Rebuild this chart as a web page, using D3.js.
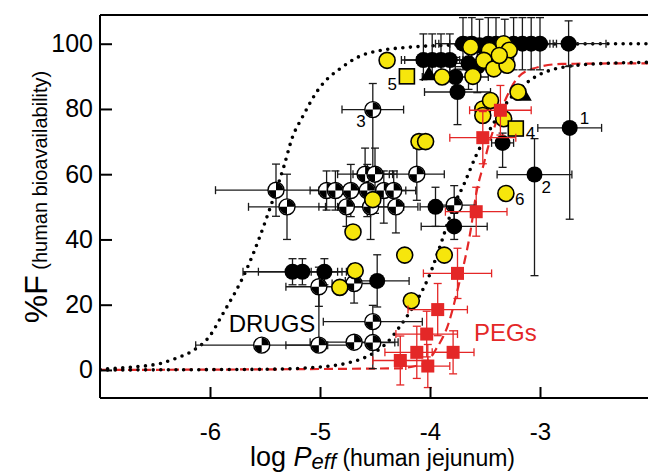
<!DOCTYPE html>
<html>
<head>
<meta charset="utf-8">
<script src="https://cdn.jsdelivr.net/npm/d3@7"></script>
<style>
  body { margin: 0; background: #fff; }
  svg { display: block; font-family: "Liberation Sans", Arial, sans-serif; }
</style>
</head>
<body>
<svg id="chart"></svg>
<script>
// point rows: [log Peff, %F, xErr, yErrDown, yErrUp]
const blackPts = [
  [-2.74, 100, 0.34, 7, 7], [-2.73, 74.2, 0.29, 28, 19], [-3.05, 59.9, 0.34, 31, 11],
  [-3.34, 69.6, 0.10, 7.5, 3], [-3.75, 85.2, 0.30, 10, 7], [-3.77, 89.8, 0.30, 6, 6],
  [-4.06, 95, 0.20, 6, 8], [-3.98, 95, 0.25, 5, 8], [-3.90, 95, 0.20, 6, 8], [-3.82, 95, 0.30, 6, 8],
  [-3.65, 94, 0.30, 8, 8], [-3.57, 93, 0.25, 8, 8],
  [-3.70, 100, 0.25, 8, 8], [-3.62, 100, 0.30, 8, 8], [-3.55, 99.5, 0.20, 8, 8], [-3.47, 100, 0.35, 8, 8],
  [-3.40, 100, 0.25, 8, 8], [-3.32, 99.5, 0.30, 8, 8], [-3.24, 100, 0.20, 8, 8], [-3.16, 100, 0.25, 8, 8],
  [-3.08, 100, 0.20, 8, 8], [-3.00, 100, 0.15, 8, 8],
  [-3.95, 50, 0.14, 6, 6], [-3.78, 44, 0.30, 4, 4], [-4.48, 27.3, 0.29, 8, 8],
  [-4.96, 30.1, 0.12, 4, 4], [-5.25, 30.1, 0.45, 4, 4], [-5.16, 30.1, 0.40, 4, 4]
];
const quarterPts = [
  [-4.52, 79.8, 0.28, 20, 8], [-5.40, 55.1, 0.55, 8, 8], [-5.30, 50.0, 0.35, 10, 10],
  [-4.59, 60, 0.25, 10, 8], [-4.50, 60, 0.20, 12, 8], [-4.12, 60, 0.25, 8, 8],
  [-4.94, 55, 0.15, 6, 6], [-4.86, 55, 0.15, 6, 6], [-4.72, 55, 0.20, 8, 8],
  [-4.57, 55, 0.25, 8, 8], [-4.42, 55, 0.20, 10, 6], [-4.33, 55, 0.20, 6, 6],
  [-4.76, 50, 0.25, 6, 6], [-4.54, 50, 0.30, 10, 6], [-4.31, 50, 0.20, 8, 6], [-3.78, 50.5, 0.20, 6, 6],
  [-4.69, 26.5, 0.20, 6, 6], [-5.01, 25.5, 0.30, 6, 6],
  [-4.52, 14.8, 0.45, 5, 5], [-4.69, 8.5, 0.40, 0, 0], [-4.52, 8.4, 0.20, 8, 0],
  [-5.53, 7.6, 0.60, 0, 0], [-5.01, 7.6, 0.30, 0, 16]
];
const yellowPts = [
  [-4.39, 94.9], [-3.89, 89.8], [-3.61, 90], [-3.63, 99], [-3.46, 97.9], [-3.33, 100],
  [-3.28, 98], [-3.51, 94.9], [-3.42, 92.3], [-3.30, 93.4], [-3.37, 96.4], [-3.20, 85.2],
  [-3.52, 80], [-3.45, 82.6], [-3.52, 78], [-3.33, 77], [-4.10, 70], [-4.04, 70],
  [-4.52, 52.2], [-4.70, 42.3], [-3.31, 54.1], [-4.23, 35.2], [-3.87, 35.2],
  [-4.68, 30.4], [-4.82, 25.3], [-4.17, 21.2]
];
const yellowSquares = [[-4.21, 90], [-3.22, 74]];
const blackTriangles = [[-3.15, 84], [-4.01, 90.3]];
const pegPts = [
  [-3.36, 79.6, 0.28, 7.6, 7.6], [-3.52, 71.2, 0.30, 8, 8], [-3.58, 48.5, 0.28, 7.5, 7.5],
  [-3.75, 29.6, 0.31, 7.7, 7.7], [-3.93, 18.5, 0.27, 8, 8], [-4.03, 11.0, 0.28, 7, 7],
  [-4.12, 5.4, 0.29, 8, 8], [-4.27, 2.9, 0.25, 7.5, 7.5], [-4.02, 1.2, 0.20, 6.6, 6.6],
  [-3.79, 5.4, 0.19, 6.6, 6.6]
];

// fitted curves: [log Peff, %F]
const drugCurveLeft = [
  [-7, 0.2], [-6.74, 0.8], [-6.45, 2.0], [-6.3, 3.7], [-6.16, 5.8], [-6.0, 10.5], [-5.89, 16.8],
  [-5.67, 30.6], [-5.45, 50], [-5.33, 62.2], [-5.25, 71.4], [-5.16, 77.5], [-5.01, 86.2],
  [-4.80, 92.8], [-4.58, 96.9], [-4.16, 99], [-3.5, 99.8], [-2, 100]
];
const drugCurveRight = [
  [-7, 0], [-5.5, 0.2], [-5.0, 0.9], [-4.74, 2.2], [-4.58, 4], [-4.39, 8.4], [-4.27, 13.5],
  [-4.19, 17.4], [-4.10, 22.4], [-4.01, 28.6], [-3.89, 39.8], [-3.80, 49], [-3.69, 57],
  [-3.58, 65.8], [-3.45, 74], [-3.30, 82], [-3.09, 88.8], [-2.86, 92.3], [-2.5, 93.8], [-2, 94.3]
];
const pegCurve = [
  [-7, 0], [-4.3, 0.5], [-4.04, 2.1], [-3.95, 6.1], [-3.83, 14.4], [-3.75, 24.5], [-3.63, 42.9],
  [-3.58, 54], [-3.51, 63.3], [-3.48, 67.3], [-3.35, 80], [-3.22, 88.8], [-3.07, 92.3],
  [-2.8, 93.8], [-2, 94]
];

const xTicks = [-6, -5, -4, -3];
const yTicks = [0, 20, 40, 60, 80, 100];
const pointLabels = [
  { text: "1", at: [-2.73, 74.2], dx: 10, dy: -4, anchor: "start" },
  { text: "2", at: [-3.05, 59.9], dx: 7, dy: 18, anchor: "start" },
  { text: "3", at: [-4.52, 79.8], dx: -7, dy: 17, anchor: "end" },
  { text: "4", at: [-3.22, 74], dx: 10, dy: 10, anchor: "start" },
  { text: "5", at: [-4.21, 90], dx: -10, dy: 14, anchor: "end" },
  { text: "6", at: [-3.31, 54.1], dx: 9, dy: 12, anchor: "start" }
];

const width = 648, height = 475;
const YELLOW = "#f6e60c", RED = "#e42727";

const svg = d3.select("#chart").attr("width", width).attr("height", height);

const x = d3.scaleLinear().domain([-7, -2]).range([100, 650]);
const y = d3.scaleLinear().domain([-8.6, 108.8]).range([398, 15]);

svg.append("defs").append("clipPath").attr("id", "plot-clip")
  .append("rect").attr("x", 100).attr("y", 15).attr("width", 550).attr("height", 383);

const plot = svg.append("g").attr("clip-path", "url(#plot-clip)");

// curves
const line = d3.line().x(d => x(d[0])).y(d => y(d[1])).curve(d3.curveMonotoneX);

plot.append("path").datum(pegCurve)
  .attr("d", line).attr("fill", "none")
  .attr("stroke", RED).attr("stroke-width", 2.2).attr("stroke-dasharray", "9,5");

[drugCurveLeft, drugCurveRight].forEach(c => {
  plot.append("path").datum(c)
    .attr("d", line).attr("fill", "none")
    .attr("stroke", "#000").attr("stroke-width", 3.6)
    .attr("stroke-linecap", "round").attr("stroke-dasharray", "0,7.6");
});

// error bars
function errorBars(g, data, color) {
  const cap = 4;
  const segs = [];
  data.forEach(d => {
    const [vx, vy, ex, ed, eu] = d;
    const cx = x(vx), cy = y(vy);
    if (ex > 0) {
      const x0 = x(vx - ex), x1 = x(vx + ex);
      segs.push([x0, cy, x1, cy], [x0, cy - cap, x0, cy + cap], [x1, cy - cap, x1, cy + cap]);
    }
    if (ed > 0) {
      const yb = y(vy - ed);
      segs.push([cx, cy, cx, yb], [cx - cap, yb, cx + cap, yb]);
    }
    if (eu > 0) {
      const yt = y(vy + eu);
      segs.push([cx, cy, cx, yt], [cx - cap, yt, cx + cap, yt]);
    }
  });
  g.selectAll("line").data(segs).join("line")
    .attr("x1", s => s[0]).attr("y1", s => s[1])
    .attr("x2", s => s[2]).attr("y2", s => s[3])
    .attr("stroke", color).attr("stroke-width", 1.3);
}

errorBars(plot.append("g"), quarterPts.concat(blackPts), "#1a1a1a");

const R = 8;

// quartered drug markers
const quarterArc = d3.arc().innerRadius(0).outerRadius(R - 0.6);
const qg = plot.append("g").selectAll("g").data(quarterPts).join("g")
  .attr("transform", d => `translate(${x(d[0])},${y(d[1])})`);
qg.append("circle").attr("r", R).attr("fill", "#fff").attr("stroke", "#000").attr("stroke-width", 1.4);
qg.append("path").attr("d", quarterArc({ startAngle: 0, endAngle: Math.PI / 2 })).attr("fill", "#000");
qg.append("path").attr("d", quarterArc({ startAngle: Math.PI, endAngle: Math.PI * 1.5 })).attr("fill", "#000");

// black markers
plot.append("g").selectAll("circle").data(blackPts).join("circle")
  .attr("cx", d => x(d[0])).attr("cy", d => y(d[1])).attr("r", R)
  .attr("fill", "#000");

plot.append("g").selectAll("path").data(blackTriangles).join("path")
  .attr("d", d3.symbol(d3.symbolTriangle, 120))
  .attr("transform", d => `translate(${x(d[0])},${y(d[1])})`)
  .attr("fill", "#000");

// yellow markers
plot.append("g").selectAll("circle").data(yellowPts).join("circle")
  .attr("cx", d => x(d[0])).attr("cy", d => y(d[1])).attr("r", R)
  .attr("fill", YELLOW).attr("stroke", "#000").attr("stroke-width", 1.6);

plot.append("g").selectAll("rect").data(yellowSquares).join("rect")
  .attr("x", d => x(d[0]) - 7.5).attr("y", d => y(d[1]) - 7.5)
  .attr("width", 15).attr("height", 15)
  .attr("fill", YELLOW).attr("stroke", "#000").attr("stroke-width", 1.6);

// PEGs
errorBars(plot.append("g"), pegPts, RED);
plot.append("g").selectAll("rect").data(pegPts).join("rect")
  .attr("x", d => x(d[0]) - 6.5).attr("y", d => y(d[1]) - 6.5)
  .attr("width", 13).attr("height", 13)
  .attr("fill", RED);

// point numbers and group labels
svg.append("g").selectAll("text").data(pointLabels).join("text")
  .attr("x", d => x(d.at[0]) + d.dx).attr("y", d => y(d.at[1]) + d.dy)
  .attr("text-anchor", d => d.anchor)
  .attr("font-size", 17).text(d => d.text);

svg.append("text").attr("x", x(-5.83)).attr("y", y(11.6))
  .attr("font-size", 24).text("DRUGS");
svg.append("text").attr("x", x(-3.6)).attr("y", y(8.9))
  .attr("font-size", 24).attr("fill", RED).text("PEGs");

// axes
const xAxis = d3.axisBottom(x).tickValues(xTicks).tickSizeInner(-11).tickSizeOuter(0).tickPadding(25)
  .tickFormat(d => d);
const yAxis = d3.axisLeft(y).tickValues(yTicks).tickSizeInner(-12).tickSizeOuter(0).tickPadding(7);

const gx = svg.append("g").attr("transform", "translate(0,398)").call(xAxis);
const gy = svg.append("g").attr("transform", "translate(100,0)").call(yAxis);
gx.attr("font-size", 24).attr("font-family", null);
gy.attr("font-size", 25).attr("font-family", null);
[gx, gy].forEach(g => {
  g.selectAll("line, path").attr("stroke", "#000").attr("stroke-width", 2);
});
gx.select(".domain").attr("d", "M100,0H650");
gy.select(".domain").attr("d", "M0,15V398");

svg.append("line").attr("x1", 100).attr("x2", 650).attr("y1", 15).attr("y2", 15)
  .attr("stroke", "#000").attr("stroke-width", 2);

// axis titles
const xt = svg.append("text").attr("x", 250).attr("y", 466).attr("font-size", 27);
xt.append("tspan").text("log ");
xt.append("tspan").attr("font-style", "italic").text("P");
xt.append("tspan").attr("font-style", "italic").attr("font-size", 22).attr("dy", 3).text("eff");
xt.append("tspan").attr("font-size", 23).attr("dy", -3).text(" (human jejunum)");

const yt = svg.append("text").attr("transform", "translate(47,197) rotate(-90)")
  .attr("text-anchor", "middle").attr("font-size", 32);
yt.append("tspan").text("%F");
yt.append("tspan").attr("font-size", 20).text(" (human bioavailability)");
</script>
</body>
</html>
